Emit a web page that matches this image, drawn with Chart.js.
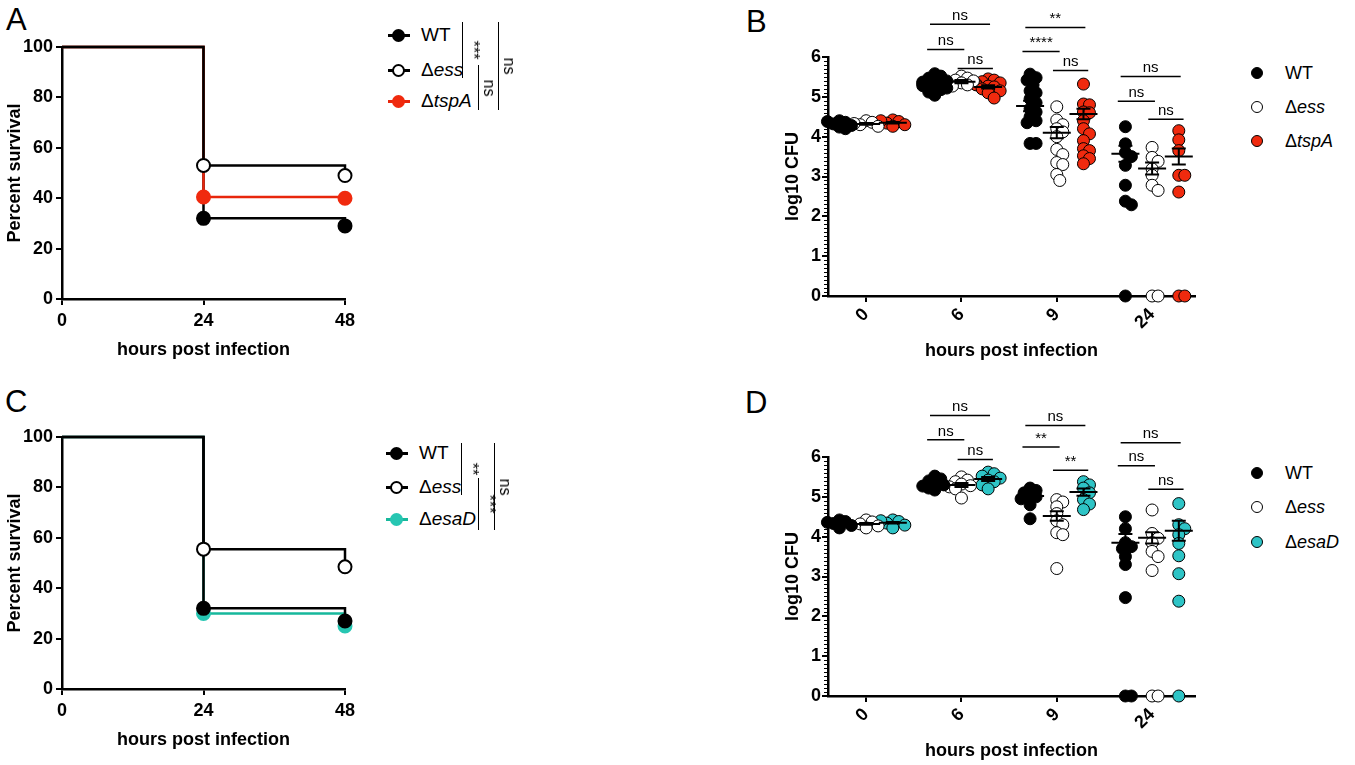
<!DOCTYPE html>
<html>
<head>
<meta charset="utf-8">
<script src="https://cdn.jsdelivr.net/npm/chart.js@4.4.1/dist/chart.umd.min.js"></script>
<style>
  body { margin:0; width:1355px; height:765px; overflow:hidden; background:#fff; font-family:'Liberation Sans', Arial, sans-serif; color:#000; }
  .pane { position:absolute; }
  .letter { position:absolute; font-size:31px; line-height:1; }
  .row { position:absolute; height:20px; font-size:19px; line-height:20px; white-space:nowrap; }
  .row .ln { position:absolute; left:0; top:9px; width:22px; height:2.5px; }
  .row .mk { position:absolute; left:3.5px; top:3.5px; width:9px; height:9px; border-radius:50%; border:2px solid; }
  .row .dt { position:absolute; left:-6px; top:4px; width:10px; height:10px; border-radius:50%; border:1.2px solid #000; }
  .row .tx { position:absolute; left:33px; top:0; }
  .row .tx2 { position:absolute; left:28px; top:0; font-size:18px; }
  .bar { position:absolute; border-left:1.5px solid #000; }
  .bar span { position:absolute; left:10px; top:50%; font-size:16px; line-height:16px; color:#000; white-space:nowrap;
              transform:translate(-50%, -50%) rotate(90deg); will-change:transform; }
</style>
</head>
<body>

<div class="letter" style="left:6px;top:4px">A</div>
<div class="letter" style="left:746px;top:6px">B</div>
<div class="letter" style="left:5px;top:386px">C</div>
<div class="letter" style="left:745px;top:387px">D</div>

<div class="pane" style="left:0;top:0;width:370px;height:370px"><canvas id="survA"></canvas></div>
<div class="pane" style="left:0;top:390px;width:370px;height:370px"><canvas id="survC"></canvas></div>
<div class="pane" style="left:760px;top:0;width:450px;height:375px"><canvas id="cfuB"></canvas></div>
<div class="pane" style="left:760px;top:400px;width:450px;height:375px"><canvas id="cfuD"></canvas></div>

<!-- legend A -->
<div class="row" style="left:388px;top:25px"><div class="ln" style="background:#000"></div><div class="mk" style="background:#000;border-color:#000"></div><span class="tx">WT</span></div>
<div class="row" style="left:388px;top:60px"><div class="ln" style="background:#000"></div><div class="mk" style="background:#fff;border-color:#000"></div><span class="tx">Δ<i>ess</i></span></div>
<div class="row" style="left:388px;top:91px"><div class="ln" style="background:#e8260c"></div><div class="mk" style="background:#f02a0e;border-color:#f02a0e"></div><span class="tx">Δ<i>tspA</i></span></div>
<div class="bar" style="left:462px;top:22px;height:56px"><span>***</span></div>
<div class="bar" style="left:478px;top:65px;height:45px"><span>ns</span></div>
<div class="bar" style="left:498px;top:22px;height:88px"><span>ns</span></div>

<!-- legend C -->
<div class="row" style="left:386px;top:443px"><div class="ln" style="background:#000"></div><div class="mk" style="background:#000;border-color:#000"></div><span class="tx">WT</span></div>
<div class="row" style="left:386px;top:477px"><div class="ln" style="background:#000"></div><div class="mk" style="background:#fff;border-color:#000"></div><span class="tx">Δ<i>ess</i></span></div>
<div class="row" style="left:386px;top:509px"><div class="ln" style="background:#17b89c"></div><div class="mk" style="background:#27c6b2;border-color:#27c6b2"></div><span class="tx">Δ<i>esaD</i></span></div>
<div class="bar" style="left:461px;top:443px;height:52px"><span>**</span></div>
<div class="bar" style="left:478px;top:478px;height:52px"><span>***</span></div>
<div class="bar" style="left:494px;top:443px;height:87px"><span>ns</span></div>

<!-- legend B -->
<div class="row" style="left:1257px;top:63px"><div class="dt" style="background:#000"></div><span class="tx2">WT</span></div>
<div class="row" style="left:1257px;top:97px"><div class="dt" style="background:#fff"></div><span class="tx2">Δ<i>ess</i></span></div>
<div class="row" style="left:1257px;top:131px"><div class="dt" style="background:#f02a0e"></div><span class="tx2">Δ<i>tspA</i></span></div>

<!-- legend D -->
<div class="row" style="left:1257px;top:463px"><div class="dt" style="background:#000"></div><span class="tx2">WT</span></div>
<div class="row" style="left:1257px;top:497px"><div class="dt" style="background:#fff"></div><span class="tx2">Δ<i>ess</i></span></div>
<div class="row" style="left:1257px;top:532px"><div class="dt" style="background:#2ec4c6"></div><span class="tx2">Δ<i>esaD</i></span></div>

<script>
// survival (percent) at 0, 24, 48 h
const survHours = [0, 24, 48];
const survA_WT = [100, 32, 29];
const survA_ess = [100, 53, 49];
const survA_tspA = [100, 40.5, 40];
const survC_WT = [100, 32, 27];
const survC_ess = [100, 55.5, 48.5];
const survC_esaD = [100, 30, 25];

// log10 CFU, one inner array per time point
const timeLabels = ['0', '6', '9', '24'];
const cfuB_WT = [
  [4.4, 4.36, 4.32, 4.28, 4.24, 4.2, 4.38],
  [5.58, 5.52, 5.47, 5.42, 5.4, 5.37, 5.35, 5.33, 5.3, 5.28, 5.25, 5.22, 5.18, 5.12, 5.04],
  [5.57, 5.48, 5.42, 5.3, 5.15, 5.1, 4.95, 4.85, 4.7, 4.62, 4.5, 4.4, 4.35, 3.83, 3.83],
  [4.25, 3.82, 3.6, 3.5, 3.28, 2.78, 2.38, 2.29, 0]
];
const cfuB_ess = [
  [4.4, 4.36, 4.3, 4.26, 4.33],
  [5.52, 5.47, 5.42, 5.4, 5.35, 5.3, 5.27],
  [4.75, 4.42, 4.3, 4.2, 4.12, 4.0, 3.68, 3.55, 3.35, 3.3, 3.05, 2.9],
  [3.73, 3.48, 3.38, 3.19, 3.03, 2.78, 2.65, 0, 0]
];
const cfuB_tspA = [
  [4.42, 4.38, 4.34, 4.3, 4.26, 4.4],
  [5.45, 5.42, 5.38, 5.35, 5.32, 5.3, 5.27, 5.25, 5.2, 5.15, 5.1, 4.97],
  [5.32, 4.82, 4.8, 4.62, 4.6, 4.4, 4.2, 4.07, 3.9, 3.7, 3.65, 3.52, 3.45, 3.32],
  [4.15, 3.92, 3.65, 3.03, 3.03, 2.61, 0, 0]
];
const meanB = [[4.33, 5.34, 4.77, 3.57], [4.32, 5.38, 4.1, 3.2], [4.35, 5.25, 4.57, 3.5]];
const semB = [[0.02, 0.04, 0.13, 0.2], [0.02, 0.04, 0.14, 0.15], [0.02, 0.04, 0.13, 0.2]];

const cfuD_WT = [
  [4.42, 4.38, 4.33, 4.28, 4.22, 4.36],
  [5.52, 5.45, 5.4, 5.35, 5.3, 5.27, 5.22, 5.17],
  [5.22, 5.16, 5.1, 5.05, 5.0, 4.95, 4.8, 4.45],
  [4.5, 4.2, 3.85, 3.75, 3.7, 3.5, 3.3, 2.47, 0, 0]
];
const cfuD_ess = [
  [4.42, 4.37, 4.32, 4.27, 4.22],
  [5.5, 5.42, 5.38, 5.32, 5.28, 5.25, 5.2, 4.97],
  [4.93, 4.87, 4.75, 4.58, 4.4, 4.3, 4.1, 4.05, 3.2],
  [4.67, 4.08, 3.96, 3.85, 3.63, 3.5, 3.15, 0, 0]
];
const cfuD_esaD = [
  [4.42, 4.38, 4.34, 4.29, 4.22, 4.4],
  [5.62, 5.58, 5.52, 5.47, 5.42, 5.38, 5.3, 5.2],
  [5.38, 5.3, 5.22, 5.1, 4.93, 4.82, 4.68],
  [4.83, 4.3, 4.2, 4.05, 3.83, 3.52, 3.07, 2.38, 0]
];
const meanD = [[4.33, 5.32, 5.02, 3.85], [4.32, 5.3, 4.52, 3.97], [4.35, 5.45, 5.12, 4.15]];
const semD = [[0.02, 0.04, 0.07, 0.22], [0.02, 0.05, 0.12, 0.14], [0.02, 0.05, 0.09, 0.25]];

// significance brackets: time index, which pair, height (log10 CFU), label
const brTime = [1, 1, 1, 2, 2, 2, 3, 3, 3];
const brPair = ['top', 'left', 'right', 'top', 'left', 'right', 'top', 'left', 'right'];
const brLevelB = [6.82, 6.19, 5.71, 6.74, 6.14, 5.66, 5.51, 4.89, 4.44];
const brLabelB = ['ns', 'ns', 'ns', '**', '****', 'ns', 'ns', 'ns', 'ns'];
const brLevelD = [7.04, 6.43, 5.94, 6.79, 6.25, 5.67, 6.36, 5.78, 5.19];
const brLabelD = ['ns', 'ns', 'ns', 'ns', '**', '**', 'ns', 'ns', 'ns'];

const RED = '#f02a0e';
const TEAL = '#2ec4c6';
Chart.defaults.font.family = "'Liberation Sans', Arial, sans-serif";
Chart.defaults.color = '#000';

function survChart(id, sets) {
  return new Chart(document.getElementById(id), {
    type: 'line',
    data: {
      datasets: sets.map(s => ({
        label: s.label,
        data: survHours.map((h, i) => ({ x: h, y: s.values[i] })),
        stepped: true,
        borderColor: s.line,
        borderWidth: 2.5,
        fill: false,
        pointRadius: c => c.dataIndex === 0 ? 0 : 6.5,
        pointBackgroundColor: s.fill,
        pointBorderColor: s.edge,
        pointBorderWidth: 2,
        order: s.order,
        clip: false
      }))
    },
    options: {
      animation: false,
      responsive: true,
      maintainAspectRatio: false,
      layout: { padding: { top: 47, right: 25, left: 0, bottom: 0 } },
      plugins: { legend: { display: false }, tooltip: { enabled: false } },
      scales: {
        x: {
          type: 'linear', min: 0, max: 48,
          ticks: { stepSize: 24, color: '#000', font: { size: 18, weight: 'bold' }, padding: 5 },
          grid: { drawOnChartArea: false, color: '#000', lineWidth: 2, tickLength: 6 },
          border: { color: '#000', width: 2.5 },
          title: { display: true, text: 'hours post infection', font: { size: 18, weight: 'bold' }, padding: { top: 0, bottom: 9 } },
          afterFit: s => { s.height = 71; }
        },
        y: {
          min: 0, max: 100,
          ticks: { stepSize: 20, color: '#000', font: { size: 18, weight: 'bold' }, padding: 3 },
          grid: { drawOnChartArea: false, color: '#000', lineWidth: 2, tickLength: 6 },
          border: { color: '#000', width: 2.5 },
          title: { display: true, text: 'Percent survival', font: { size: 18, weight: 'bold' }, padding: 4 },
          afterFit: s => { s.width = 62; }
        }
      }
    }
  });
}

survChart('survA', [
  { label: 'Δess', values: survA_ess, line: '#000', fill: '#fff', edge: '#000', order: 1 },
  { label: 'ΔtspA', values: survA_tspA, line: '#e8260c', fill: RED, edge: RED, order: 2 },
  { label: 'WT', values: survA_WT, line: '#000', fill: '#000', edge: '#000', order: 3 }
]);
survChart('survC', [
  { label: 'Δess', values: survC_ess, line: '#000', fill: '#fff', edge: '#000', order: 1 },
  { label: 'WT', values: survC_WT, line: '#000', fill: '#000', edge: '#000', order: 2 },
  { label: 'ΔesaD', values: survC_esaD, line: '#17b89c', fill: '#27c6b2', edge: '#27c6b2', order: 3 }
]);

// horizontal placement of the three genotypes around each time point
const groupOffset = [-0.28, 0, 0.28];
const bracketSpan = { top: [-0.33, 0.3], left: [-0.36, 0.03], right: [-0.04, 0.33] };

// nudge overlapping dots sideways (rough px per unit of the plot)
const pxX = 95.3, pxY = 39.9;
function swarm(vals, cx) {
  const pts = [];
  vals.forEach(v => {
    let off = 0;
    for (let k = 0; k < 9; k++) {
      off = (k % 2 ? 1 : -1) * Math.ceil(k / 2) * 3;
      const x = cx + off / pxX;
      if (pts.every(p => Math.hypot((x - p.x) * pxX, (v - p.y) * pxY) >= 6)) break;
    }
    pts.push({ x: cx + off / pxX, y: v });
  });
  return pts;
}

function dotChart(id, groups, means, sems, brLevel, brLabel) {
  const extras = {
    id: 'extras',
    afterDatasetsDraw(chart) {
      const ctx = chart.ctx, xs = chart.scales.x, ys = chart.scales.y;
      ctx.save();
      ctx.strokeStyle = '#000';
      ctx.lineWidth = 2;
      means.forEach((row, gi) => row.forEach((m, ti) => {
        const cx = xs.getPixelForValue(ti + groupOffset[gi]);
        const ym = ys.getPixelForValue(m);
        const y1 = ys.getPixelForValue(m + sems[gi][ti]);
        const y2 = ys.getPixelForValue(m - sems[gi][ti]);
        ctx.beginPath();
        ctx.moveTo(cx - 14, ym); ctx.lineTo(cx + 14, ym);
        ctx.moveTo(cx, y1); ctx.lineTo(cx, y2);
        ctx.moveTo(cx - 7, y1); ctx.lineTo(cx + 7, y1);
        ctx.moveTo(cx - 7, y2); ctx.lineTo(cx + 7, y2);
        ctx.stroke();
      }));
      ctx.restore();
    },
    afterDraw(chart) {
      const ctx = chart.ctx, xs = chart.scales.x, ys = chart.scales.y;
      const left = chart.chartArea.left;
      ctx.save();
      // minor ticks every 0.1
      ctx.strokeStyle = '#000';
      ctx.lineWidth = 1;
      ctx.beginPath();
      for (let i = 1; i < 60; i++) {
        if (i % 10 === 0) continue;
        const y = Math.round(ys.getPixelForValue(i / 10)) + 0.5;
        ctx.moveTo(left - 4, y); ctx.lineTo(left, y);
      }
      ctx.stroke();
      // brackets
      ctx.lineWidth = 1.5;
      ctx.fillStyle = '#000';
      ctx.font = "15px 'Liberation Sans', Arial, sans-serif";
      ctx.textAlign = 'center';
      ctx.textBaseline = 'bottom';
      brTime.forEach((t, i) => {
        const sp = bracketSpan[brPair[i]];
        const xa = xs.getPixelForValue(t + sp[0]);
        const xb = xs.getPixelForValue(t + sp[1]);
        const y = ys.getPixelForValue(brLevel[i]);
        ctx.beginPath();
        ctx.moveTo(xa, y); ctx.lineTo(xb, y);
        ctx.stroke();
        ctx.fillText(brLabel[i], (xa + xb) / 2, y - 1);
      });
      ctx.restore();
    }
  };

  return new Chart(document.getElementById(id), {
    type: 'scatter',
    data: {
      datasets: groups.map((g, gi) => ({
        label: g.label,
        data: g.vals.flatMap((arr, ti) => swarm(arr, ti + groupOffset[gi])),
        backgroundColor: g.color,
        borderColor: '#000',
        borderWidth: 1,
        pointRadius: 6,
        clip: false
      }))
    },
    options: {
      animation: false,
      responsive: true,
      maintainAspectRatio: false,
      layout: { padding: { top: 57, right: 15, left: 18, bottom: 0 } },
      plugins: { legend: { display: false }, tooltip: { enabled: false } },
      scales: {
        x: {
          type: 'linear', min: -0.4, max: 3.45,
          afterBuildTicks: s => { s.ticks = timeLabels.map((_, i) => ({ value: i })); },
          ticks: {
            autoSkip: false, minRotation: 45, maxRotation: 45,
            callback: v => timeLabels[v],
            color: '#000', font: { size: 18, weight: 'bold' }, padding: 2
          },
          grid: { drawOnChartArea: false, color: '#000', lineWidth: 2, tickLength: 6 },
          border: { color: '#000', width: 2.5 },
          title: { display: true, text: 'hours post infection', font: { size: 18, weight: 'bold' }, padding: { top: 0, bottom: 13 } },
          afterFit: s => { s.height = 79; }
        },
        y: {
          min: 0, max: 6,
          ticks: { stepSize: 1, color: '#000', font: { size: 18, weight: 'bold' }, padding: 1 },
          grid: { drawOnChartArea: false, color: '#000', lineWidth: 2, tickLength: 6 },
          border: { color: '#000', width: 2.5 },
          title: { display: true, text: 'log10 CFU', font: { size: 18, weight: 'bold' }, padding: 4 },
          afterFit: s => { s.width = 50; }
        }
      }
    },
    plugins: [extras]
  });
}

dotChart('cfuB', [
  { label: 'WT', vals: cfuB_WT, color: '#000' },
  { label: 'Δess', vals: cfuB_ess, color: '#fff' },
  { label: 'ΔtspA', vals: cfuB_tspA, color: RED }
], meanB, semB, brLevelB, brLabelB);

dotChart('cfuD', [
  { label: 'WT', vals: cfuD_WT, color: '#000' },
  { label: 'Δess', vals: cfuD_ess, color: '#fff' },
  { label: 'ΔesaD', vals: cfuD_esaD, color: TEAL }
], meanD, semD, brLevelD, brLabelD);
</script>
</body>
</html>
